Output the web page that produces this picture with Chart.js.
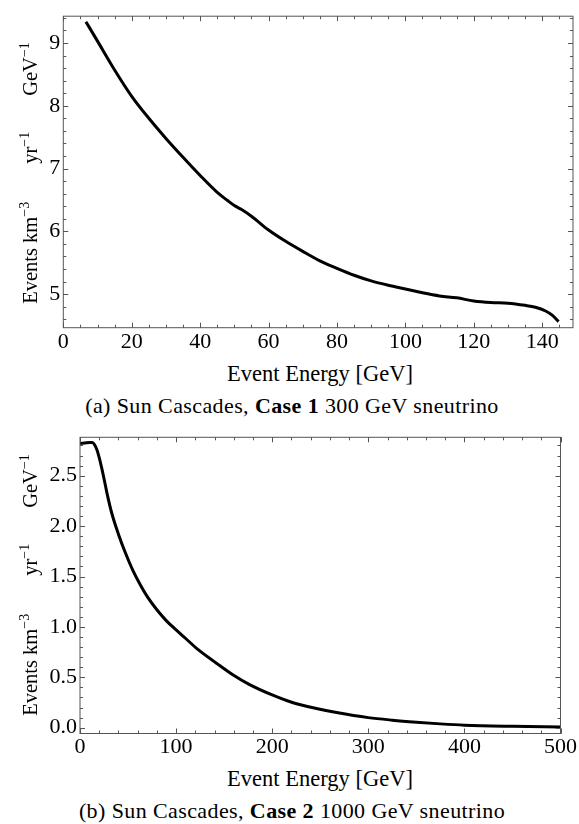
<!DOCTYPE html>
<html>
<head>
<meta charset="utf-8">
<script src="https://cdn.jsdelivr.net/npm/chart.js@4.4.1/dist/chart.umd.min.js"></script>
<style>
    body { margin: 0; background: #fff; font-family: 'Liberation Serif', 'Times New Roman', serif; color: #000; }
    #page { position: relative; width: 579px; height: 824px; overflow: hidden; }
    canvas { position: absolute; left: 0; }
    .ytitle { position: absolute; font-size: 20.5px; white-space: nowrap; transform: translate(-50%, -50%) rotate(-90deg); }
    .ytitle sup { font-size: 14px; vertical-align: 0; position: relative; top: -8px; }
    .ytitle .gap1 { display: inline-block; width: 38px; }
    .ytitle .gap2 { display: inline-block; width: 36px; }
    .xtitle { position: absolute; font-size: 22.5px; white-space: nowrap; transform: translate(-50%, -50%); }
    .caption { position: absolute; font-size: 22px; letter-spacing: 0.4px; white-space: nowrap; transform: translate(-50%, -50%); }
</style>
</head>
<body>
<div id="page">
    <canvas id="chart-a" width="579" height="360" style="top:0"></canvas>
    <canvas id="chart-b" width="579" height="340" style="top:420px"></canvas>

    <div class="ytitle" style="left:30px; top:173px">Events km<sup>−3</sup><span class="gap1"></span>yr<sup>−1</sup><span class="gap2"></span>GeV<sup>−1</sup></div>
    <div class="xtitle" style="left:320px; top:374px">Event Energy [GeV]</div>
    <div class="caption" style="left:292px; top:406px">(a) Sun Cascades, <b>Case 1</b> 300 GeV sneutrino</div>

    <div class="ytitle" style="left:30px; top:585px">Events km<sup>−3</sup><span class="gap1"></span>yr<sup>−1</sup><span class="gap2"></span>GeV<sup>−1</sup></div>
    <div class="xtitle" style="left:320px; top:779px">Event Energy [GeV]</div>
    <div class="caption" style="left:292px; top:811px">(b) Sun Cascades, <b>Case 2</b> 1000 GeV sneutrino</div>
</div>

<script>
// (a) Case 1, 300 GeV sneutrino
const case1Energy = [6.6, 10, 15, 20, 25, 30, 35, 40, 45, 48, 50, 52, 55, 60, 65, 70, 75, 80, 85, 90, 95, 100, 105, 110, 115, 120, 125, 130, 135, 138, 141, 143, 144.8];
const case1Events = [9.34, 9.03, 8.57, 8.15, 7.80, 7.48, 7.18, 6.89, 6.62, 6.49, 6.41, 6.35, 6.24, 6.02, 5.84, 5.68, 5.53, 5.41, 5.30, 5.21, 5.14, 5.08, 5.02, 4.97, 4.94, 4.89, 4.865, 4.855, 4.82, 4.79, 4.73, 4.66, 4.56];
const case1XTicks = [0, 20, 40, 60, 80, 100, 120, 140];
const case1YTicks = [5, 6, 7, 8, 9];

// (b) Case 2, 1000 GeV sneutrino
const case2Energy = [0, 5, 10, 13, 15, 17.5, 20, 22.5, 25, 28, 33, 40, 47, 55, 62, 70, 80, 90, 100, 110, 121, 142, 159, 176, 200, 221, 246, 267, 300, 325, 350, 375, 400, 450, 500];
const case2Events = [2.82, 2.825, 2.83, 2.83, 2.81, 2.76, 2.68, 2.58, 2.47, 2.33, 2.13, 1.92, 1.74, 1.56, 1.43, 1.30, 1.17, 1.06, 0.97, 0.885, 0.79, 0.64, 0.525, 0.43, 0.325, 0.25, 0.19, 0.15, 0.10, 0.075, 0.055, 0.038, 0.025, 0.014, 0.008];
const case2XTicks = [0, 100, 200, 300, 400, 500];
const case2YTicks = [0, 0.5, 1.0, 1.5, 2.0, 2.5];

const tickFont = { family: "'Liberation Serif', 'Times New Roman', serif", size: 22 };

// Mathematica style frame: ticks pointing inward on all four sides
const frameTicks = {
    id: 'frameTicks',
    afterDraw(chart, args, opts) {
        const { ctx, chartArea: a, scales: { x, y } } = chart;
        ctx.save();
        ctx.strokeStyle = '#555';
        ctx.lineWidth = 1;
        ctx.strokeRect(a.left, a.top, a.right - a.left, a.bottom - a.top);

        const line = (x1, y1, x2, y2) => {
            ctx.beginPath();
            ctx.moveTo(x1, y1);
            ctx.lineTo(x2, y2);
            ctx.stroke();
        };
        const xMark = (v, len) => {
            const px = Math.round(x.getPixelForValue(v)) + 0.5;
            line(px, a.bottom, px, a.bottom - len);
            line(px, a.top, px, a.top + len);
        };
        const yMark = (v, len) => {
            const py = Math.round(y.getPixelForValue(v)) + 0.5;
            line(a.left, py, a.left + len, py);
            line(a.right, py, a.right - len, py);
        };

        for (let v = Math.ceil(x.min / opts.xMinor) * opts.xMinor; v <= x.max + 1e-9; v += opts.xMinor) xMark(v, 3);
        for (let v = Math.ceil(y.min / opts.yMinor) * opts.yMinor; v <= y.max + 1e-9; v += opts.yMinor) yMark(v, 3);
        x.ticks.forEach(t => xMark(t.value, 5));
        y.ticks.forEach(t => yMark(t.value, 5));
        ctx.restore();
    }
};

function makeChart(canvasId, energy, events, cfg) {
    const ctx = document.getElementById(canvasId).getContext('2d');
    const canvasHeight = ctx.canvas.height;

    return new Chart(ctx, {
        type: 'line',
        data: {
            datasets: [{
                data: energy.map((e, i) => ({ x: e, y: events[i] })),
                borderColor: '#000',
                borderWidth: 3,
                pointRadius: 0,
                fill: false,
                cubicInterpolationMode: 'monotone'
            }]
        },
        options: {
            responsive: false,
            animation: false,
            devicePixelRatio: 1,
            layout: { padding: { top: cfg.top, right: cfg.right, left: 0, bottom: 0 } },
            plugins: {
                legend: { display: false },
                tooltip: { enabled: false },
                frameTicks: { xMinor: cfg.xMinor, yMinor: cfg.yMinor }
            },
            scales: {
                x: {
                    type: 'linear',
                    min: cfg.xMin,
                    max: cfg.xMax,
                    grid: { display: false, drawTicks: false },
                    border: { display: false },
                    ticks: { font: tickFont, color: '#000', padding: 1, maxRotation: 0, autoSkip: false },
                    afterBuildTicks: s => { s.ticks = cfg.xTicks.map(v => ({ value: v })); },
                    afterFit: s => { s.height = canvasHeight - cfg.bottom; }
                },
                y: {
                    type: 'linear',
                    min: cfg.yMin,
                    max: cfg.yMax,
                    grid: { display: false, drawTicks: false },
                    border: { display: false },
                    ticks: {
                        font: tickFont, color: '#000', padding: 3, autoSkip: false,
                        callback: v => cfg.yDecimals ? v.toFixed(cfg.yDecimals) : v
                    },
                    afterBuildTicks: s => { s.ticks = cfg.yTicks.map(v => ({ value: v })); },
                    afterFit: s => { s.width = cfg.left; }
                }
            }
        },
        plugins: [frameTicks]
    });
}

makeChart('chart-a', case1Energy, case1Events, {
    left: 63.3, right: 6, top: 9.3, bottom: 327.7,
    xMin: 0, xMax: 149, yMin: 4.464, yMax: 9.427,
    xTicks: case1XTicks, yTicks: case1YTicks,
    xMinor: 5, yMinor: 0.2, yDecimals: 0
});

makeChart('chart-b', case2Energy, case2Events, {
    left: 80, right: 18.5, top: 17.3, bottom: 313.5,
    xMin: 0, xMax: 500, yMin: -0.0575, yMax: 2.881,
    xTicks: case2XTicks, yTicks: case2YTicks,
    xMinor: 20, yMinor: 0.1, yDecimals: 1
});
</script>
</body>
</html>
